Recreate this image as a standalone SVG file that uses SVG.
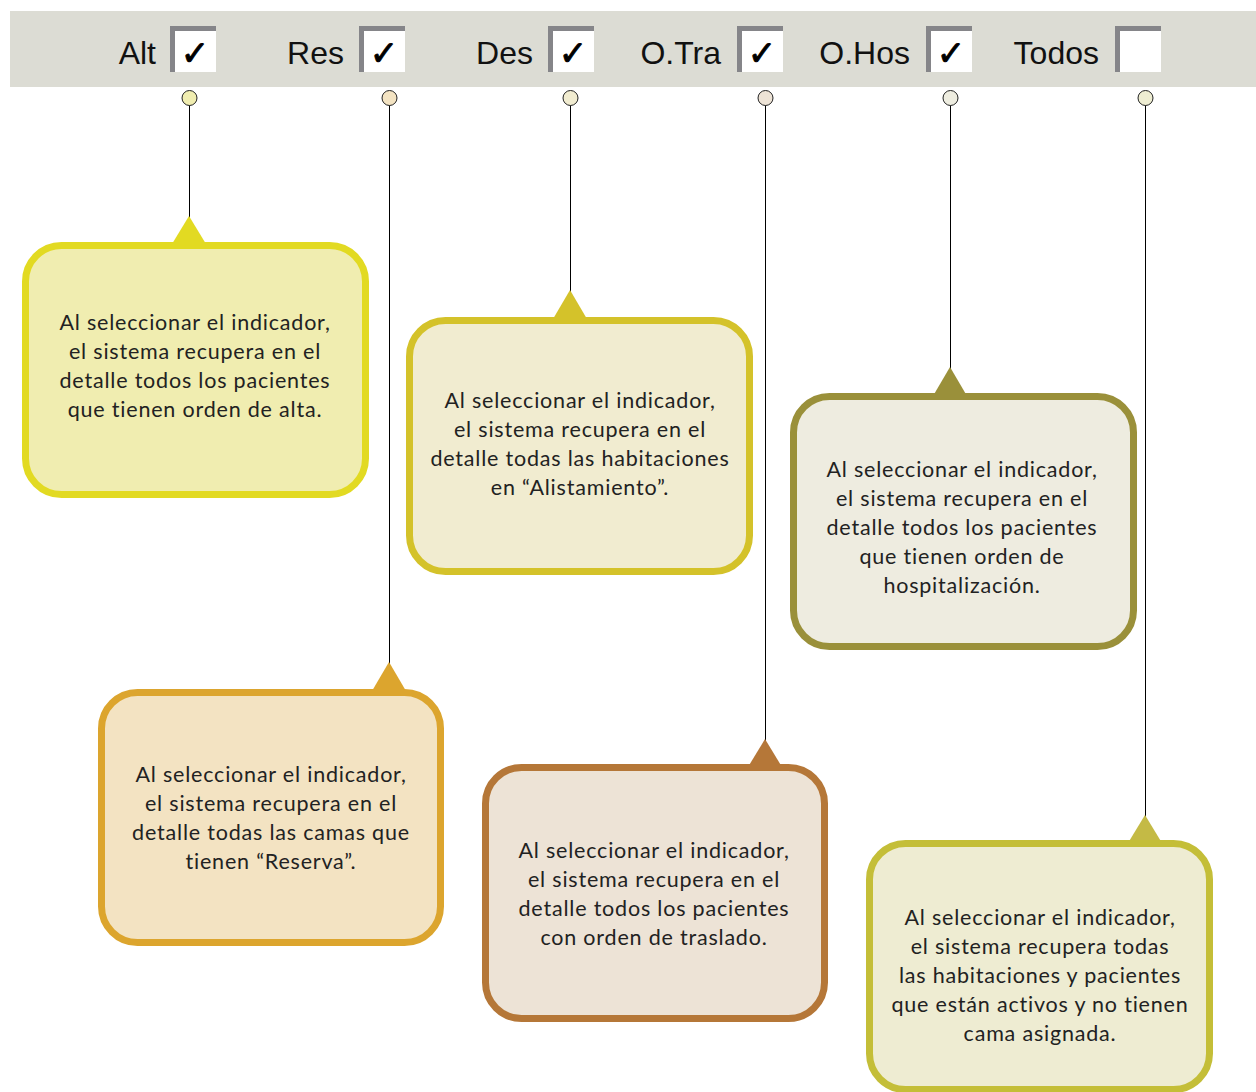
<svg xmlns="http://www.w3.org/2000/svg" width="1256" height="1092" viewBox="0 0 1256 1092">
<style>
.lbl{font-family:"Liberation Sans",Arial,sans-serif;font-size:32px;fill:#111;text-anchor:end}
.chk{font-family:"DejaVu Sans",sans-serif;font-size:34px;fill:#000;stroke:#000;stroke-width:1;text-anchor:middle}
.cb{fill:#fff}
.cbb{fill:none;stroke:#858589;stroke-width:5}
.dot{stroke:#222;stroke-width:1}
.wire{stroke:#000;stroke-width:1;fill:none}
.txt{font-family:"Lato","Open Sans",sans-serif;font-size:21.5px;letter-spacing:0.8px;fill:#222;text-anchor:middle}
.box{stroke-width:7}
</style>
<rect x="10" y="11" width="1246" height="76" fill="#DCDCD4"/>
<g id="header">
  <g id="cb-alt"><text class="lbl" x="156" y="64">Alt</text><rect class="cb" x="170" y="26" width="46" height="46"/><path class="cbb" d="M172.5 72V28.5H216"/><text class="chk" x="195" y="65">✓</text></g>
  <g id="cb-res"><text class="lbl" x="344" y="64">Res</text><rect class="cb" x="359" y="26" width="46" height="46"/><path class="cbb" d="M361.5 72V28.5H405"/><text class="chk" x="384" y="65">✓</text></g>
  <g id="cb-des"><text class="lbl" x="533" y="64">Des</text><rect class="cb" x="548" y="26" width="46" height="46"/><path class="cbb" d="M550.5 72V28.5H594"/><text class="chk" x="573" y="65">✓</text></g>
  <g id="cb-otra"><text class="lbl" x="721" y="64">O.Tra</text><rect class="cb" x="737" y="26" width="46" height="46"/><path class="cbb" d="M739.5 72V28.5H783"/><text class="chk" x="762" y="65">✓</text></g>
  <g id="cb-ohos"><text class="lbl" x="910" y="64">O.Hos</text><rect class="cb" x="926" y="26" width="46" height="46"/><path class="cbb" d="M928.5 72V28.5H972"/><text class="chk" x="951" y="65">✓</text></g>
  <g id="cb-todos"><text class="lbl" x="1099" y="64">Todos</text><rect class="cb" x="1115" y="26" width="46" height="46"/><path class="cbb" d="M1117.5 72V28.5H1161"/></g>
</g>
<g id="connectors">
  <line class="wire" x1="189.5" y1="105" x2="189.5" y2="218"/>
  <line class="wire" x1="389.5" y1="105" x2="389.5" y2="664"/>
  <line class="wire" x1="570.5" y1="105" x2="570.5" y2="292"/>
  <line class="wire" x1="765.5" y1="105" x2="765.5" y2="741"/>
  <line class="wire" x1="950.5" y1="105" x2="950.5" y2="369"/>
  <line class="wire" x1="1145.5" y1="105" x2="1145.5" y2="817"/>
  <circle class="dot" cx="189.5" cy="98" r="7.5" fill="#F0EDB0"/>
  <circle class="dot" cx="389.5" cy="98" r="7.5" fill="#F3E3C2"/>
  <circle class="dot" cx="570.5" cy="98" r="7.5" fill="#F1ECD0"/>
  <circle class="dot" cx="765.5" cy="98" r="7.5" fill="#EDE3D6"/>
  <circle class="dot" cx="950.5" cy="98" r="7.5" fill="#EEEDE0"/>
  <circle class="dot" cx="1145.5" cy="98" r="7.5" fill="#EEEDD2"/>
</g>
<g id="node-alt">
  <polygon points="189,216 172,244 206,244" fill="#E2DA22"/>
  <rect class="box" x="25.5" y="245.5" width="340" height="249" rx="36" fill="#F0EDB0" stroke="#E2DA22"/>
  <text class="txt" x="195" y="330">Al seleccionar el indicador,</text>
  <text class="txt" x="195" y="359">el sistema recupera en el</text>
  <text class="txt" x="195" y="388">detalle todos los pacientes</text>
  <text class="txt" x="195" y="417">que tienen orden de alta.</text>
</g>
<g id="node-des">
  <polygon points="570,290 553,319 587,319" fill="#D4C22A"/>
  <rect class="box" x="409.5" y="320.5" width="340" height="251" rx="36" fill="#F1ECD0" stroke="#D4C22A"/>
  <text class="txt" x="580" y="408">Al seleccionar el indicador,</text>
  <text class="txt" x="580" y="437">el sistema recupera en el</text>
  <text class="txt" x="580" y="466">detalle todas las habitaciones</text>
  <text class="txt" x="580" y="495">en “Alistamiento”.</text>
</g>
<g id="node-ohos">
  <polygon points="950,367 933,396 967,396" fill="#9A903A"/>
  <rect class="box" x="793.5" y="396.5" width="340" height="250" rx="36" fill="#EEECE0" stroke="#9A903A"/>
  <text class="txt" x="962" y="477">Al seleccionar el indicador,</text>
  <text class="txt" x="962" y="506">el sistema recupera en el</text>
  <text class="txt" x="962" y="535">detalle todos los pacientes</text>
  <text class="txt" x="962" y="564">que tienen orden de</text>
  <text class="txt" x="962" y="593">hospitalización.</text>
</g>
<g id="node-res">
  <polygon points="389,662 372,691 406,691" fill="#DCA52E"/>
  <rect class="box" x="101.5" y="692.5" width="339" height="250" rx="36" fill="#F3E3C2" stroke="#DCA52E"/>
  <text class="txt" x="271" y="782">Al seleccionar el indicador,</text>
  <text class="txt" x="271" y="811">el sistema recupera en el</text>
  <text class="txt" x="271" y="840">detalle todas las camas que</text>
  <text class="txt" x="271" y="869">tienen “Reserva”.</text>
</g>
<g id="node-otra">
  <polygon points="765,739 748,767 782,767" fill="#B57738"/>
  <rect class="box" x="485.5" y="767.5" width="339" height="251" rx="36" fill="#EDE3D6" stroke="#B57738"/>
  <text class="txt" x="654" y="858">Al seleccionar el indicador,</text>
  <text class="txt" x="654" y="887">el sistema recupera en el</text>
  <text class="txt" x="654" y="916">detalle todos los pacientes</text>
  <text class="txt" x="654" y="945">con orden de traslado.</text>
</g>
<g id="node-todos">
  <polygon points="1145,815 1128,843 1162,843" fill="#C4BA45"/>
  <rect class="box" x="869.5" y="843.5" width="340" height="246" rx="36" fill="#EEECD2" stroke="#C4BE38"/>
  <text class="txt" x="1040" y="925">Al seleccionar el indicador,</text>
  <text class="txt" x="1040" y="954">el sistema recupera todas</text>
  <text class="txt" x="1040" y="983">las habitaciones y pacientes</text>
  <text class="txt" x="1040" y="1012">que están activos y no tienen</text>
  <text class="txt" x="1040" y="1041">cama asignada.</text>
</g>
</svg>
